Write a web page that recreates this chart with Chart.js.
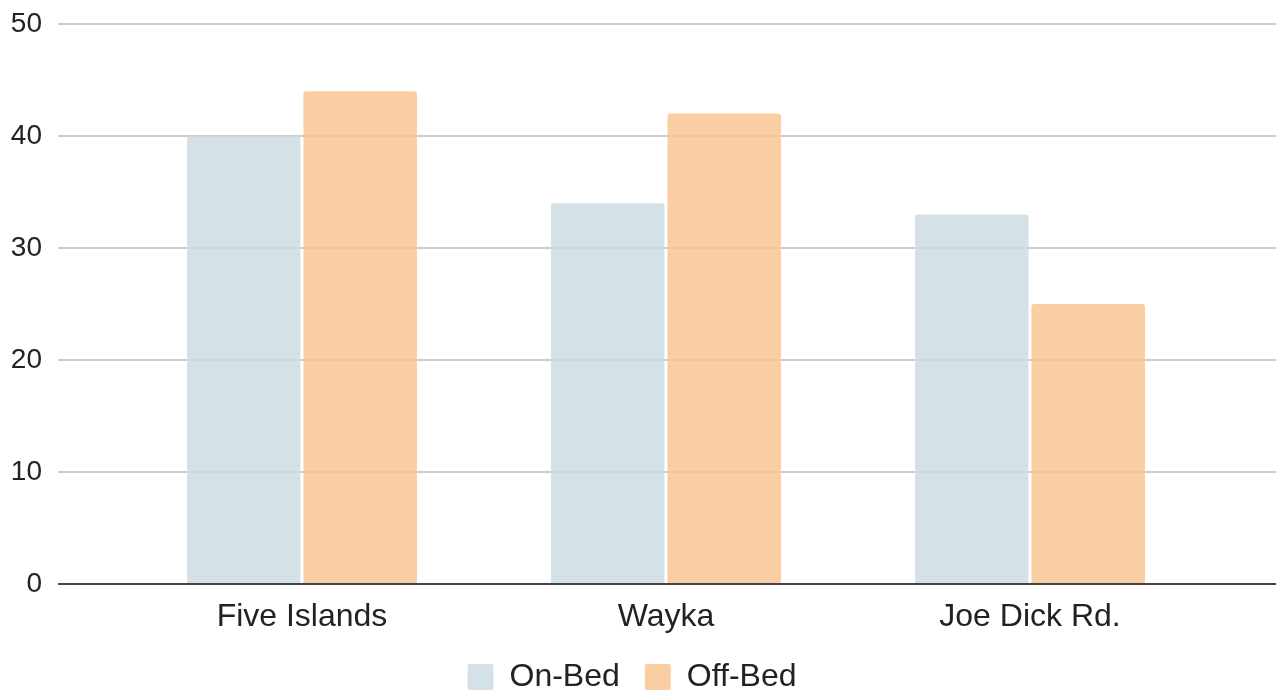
<!DOCTYPE html>
<html lang="en">
<head>
  <meta charset="UTF-8" />
  <title>On-Bed vs Off-Bed</title>
  <script src="https://cdn.jsdelivr.net/npm/chart.js"></script>
  <style>
    body { margin: 0; background: #fff; overflow: hidden; }
    .wrap { width: 1276px; height: 703px; }
  </style>
</head>
<body>
  <div class="wrap"><canvas id="grafica"></canvas></div>
  <script>
    const sitios = ["Five Islands", "Wayka", "Joe Dick Rd."];
    const onBed = [40, 34, 33];
    const offBed = [44, 42, 25];
    const yTicks = [0, 10, 20, 30, 40, 50];

    // cuadricula a todo lo ancho y etiquetas del eje y pegadas a la izquierda
    const lineasAncho = {
      id: 'lineasAncho',
      beforeDatasetsDraw(chart) {
        const ctx = chart.ctx, y = chart.scales.y;
        ctx.save();
        ctx.strokeStyle = '#cccccc';
        ctx.lineWidth = 2;
        yTicks.forEach(v => {
          if (v === 0) return;
          const py = Math.round(y.getPixelForValue(v));
          ctx.beginPath(); ctx.moveTo(58, py); ctx.lineTo(chart.width, py); ctx.stroke();
        });
        ctx.fillStyle = '#222';
        ctx.font = "28px 'Liberation Sans', Arial, sans-serif";
        ctx.textAlign = 'right';
        ctx.textBaseline = 'middle';
        yTicks.forEach(v => ctx.fillText(String(v), 42, y.getPixelForValue(v)));
        ctx.restore();
      },
      afterDatasetsDraw(chart) {
        const ctx = chart.ctx, y = chart.scales.y;
        const py = Math.round(y.getPixelForValue(0));
        ctx.save();
        ctx.strokeStyle = '#444444';
        ctx.lineWidth = 2;
        ctx.beginPath(); ctx.moveTo(58, py); ctx.lineTo(chart.width, py); ctx.stroke();
        ctx.restore();
      }
    };

    Chart.defaults.font.family = "'Liberation Sans', Arial, sans-serif";
    Chart.defaults.color = '#222';

    new Chart(document.getElementById("grafica"), {
      type: 'bar',
      data: {
        labels: sitios,
        datasets: [
          { label: "On-Bed", data: onBed, backgroundColor: "rgba(204,220,226,0.85)", borderRadius: 3, borderSkipped: 'bottom' },
          { label: "Off-Bed", data: offBed, backgroundColor: "rgba(247,197,146,0.85)", borderRadius: 3, borderSkipped: 'bottom' }
        ]
      },
      options: {
        responsive: true,
        maintainAspectRatio: false,
        animation: false,
        layout: { padding: { top: 24, right: 64, bottom: 0, left: 52 } },
        datasets: { bar: { categoryPercentage: 0.64, barPercentage: 0.975 } },
        plugins: {
          legend: {
            position: 'bottom',
            labels: { font: { size: 32 }, boxWidth: 26, boxHeight: 26, padding: 25, useBorderRadius: true, borderRadius: 2 }
          },
          tooltip: { enabled: false }
        },
        scales: {
          x: {
            afterFit: s => { s.height = 52; },
            grid: { display: false, drawTicks: false },
            border: { display: false },
            ticks: { font: { size: 32, lineHeight: '12px' }, padding: 27 }
          },
          y: {
            min: 0, max: 50,
            afterBuildTicks: s => { s.ticks = yTicks.map(v => ({ value: v })); },
            afterFit: s => { s.width = 68; },
            grid: { display: false, drawTicks: false },
            border: { display: false },
            ticks: { display: false }
          }
        }
      },
      plugins: [lineasAncho]
    });
  </script>
</body>
</html>
